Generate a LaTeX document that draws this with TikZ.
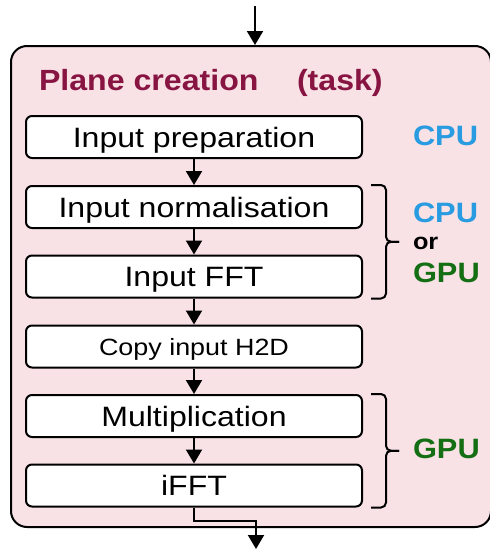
\documentclass[tikz,border=0pt]{standalone}
\usepackage{fontspec}
\setmainfont[FakeStretch=1.1]{Liberation Sans}
\newfontfamily\stepfont[FakeStretch=1.145]{Liberation Sans}
\usetikzlibrary{arrows.meta,calc}
\definecolor{taskfill}{RGB}{248,226,230}
\definecolor{tasktitle}{RGB}{135,20,65}
\definecolor{cpublue}{RGB}{40,155,225}
\definecolor{gpugreen}{RGB}{20,110,20}
\begin{document}
\begin{tikzpicture}[x=1pt,y=-1pt,line width=2pt,
  stepbox/.style={draw,fill=white,rounded corners=6pt,minimum width=336pt,
    minimum height=42pt,inner sep=0pt,text height=20pt,text depth=0pt,
    font=\stepfont\fontsize{28}{30}\selectfont},
  smallbox/.style={stepbox,text height=17pt,font=\stepfont\fontsize{23.5}{26}\selectfont},
  flow/.style={-{Triangle[width=16pt,length=14pt]}},
  tasklabel/.style={inner sep=0pt,anchor=base west,text=tasktitle,
    font=\bfseries\fontsize{29.2}{32}\selectfont},
  unit/.style={inner sep=0pt,anchor=base west,font=\bfseries\fontsize{28}{30}\selectfont},
  bracket/.style={rounded corners=5pt}]
\useasboundingbox (0,0) rectangle (490,549);

% task container
\node[draw,fill=taskfill,rounded corners=16pt,minimum width=480pt,
  minimum height=481pt,inner sep=0pt] (task) at (251,286.5) {};
\node[tasklabel] (title) at (38,90) {Plane creation};
\node[tasklabel] (tag) at (296,90) {(task)};

% processing steps
\node[stepbox] (prep) at (194,137) {Input preparation};
\node[stepbox] (norm) at (194,207) {Input normalisation};
\node[stepbox] (fft)  at (194,276.5) {Input FFT};
\node[smallbox] (copy) at (194,346.5) {Copy input H2D};
\node[stepbox] (mult) at (194,416) {Multiplication};
\node[stepbox] (ifft) at (194,485.5) {iFFT};

% input and output
\coordinate (in) at (255,6);
\coordinate (out) at (256,549);
\draw[flow] (in) -- (in |- task.north);
\draw[flow] (prep) -- (norm);
\draw[flow] (norm) -- (fft);
\draw[flow] (fft) -- (copy);
\draw[flow] (copy) -- (mult);
\draw[flow] (mult) -- (ifft);
\draw[flow] (ifft.south) -- ++(0,13) -| (out);

% device brackets
\coordinate (midA) at ($(norm.north east)!0.5!(fft.south east)$);
\draw[bracket] ([xshift=8pt]norm.north east) -| ([xshift=23pt]midA) -- ([xshift=36pt]midA);
\draw[bracket] ([xshift=8pt]fft.south east) -| ([xshift=23pt]midA) -- ([xshift=36pt]midA);
\coordinate (midB) at ($(mult.north east)!0.5!(ifft.south east)$);
\draw[bracket] ([xshift=8pt]mult.north east) -| ([xshift=23pt]midB) -- ([xshift=36pt]midB);
\draw[bracket] ([xshift=8pt]ifft.south east) -| ([xshift=23pt]midB) -- ([xshift=36pt]midB);

% device labels
\node[unit,text=cpublue] (cpu1) at (412,145) {CPU};
\node[unit,text=cpublue] (cpu2) at (412,222) {CPU};
\node[unit,font=\bfseries\fontsize{23}{25}\selectfont] (or) at (412,249) {or};
\node[unit,text=gpugreen] (gpu1) at (412,282) {GPU};
\node[unit,text=gpugreen] (gpu2) at (412,458) {GPU};
\end{tikzpicture}
\end{document}
